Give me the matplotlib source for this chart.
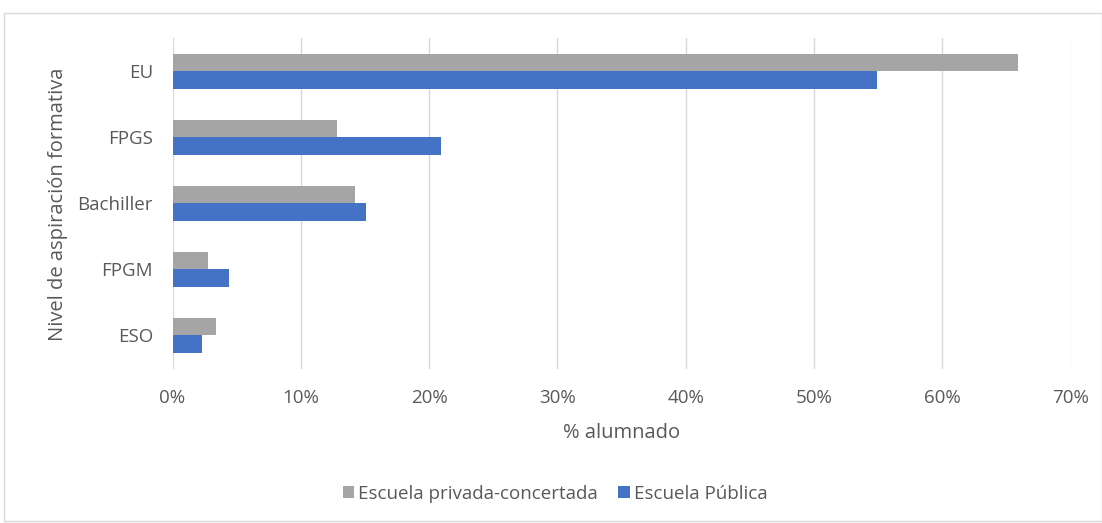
import matplotlib.pyplot as plt
from matplotlib.patches import Rectangle
from matplotlib.ticker import FuncFormatter, MultipleLocator
import numpy as np

categories = ["EU", "FPGS", "Bachiller", "FPGM", "ESO"]
privada = [65.9, 12.8, 14.2, 2.8, 3.4]
publica = [54.9, 20.9, 15.1, 4.4, 2.3]
series_labels = ["Escuela privada-concertada", "Escuela Pública"]
colors = ["#A5A5A5", "#4472C4"]
text_color = "#595959"

plt.rcParams["font.family"] = ["Open Sans", "DejaVu Sans"]

W, H = 1102, 523
fig = plt.figure(figsize=(W / 100, H / 100), dpi=100)

# outer chart frame
fig.patches.append(Rectangle((4 / W, 2 / H), (W - 4) / W, (H - 15) / H,
                             transform=fig.transFigure, fill=False,
                             edgecolor="#D9D9D9", linewidth=1.0))

ax_left, ax_right, ax_top, ax_bottom = 172.5, 1070.7, 38.3, 368.5
ax = fig.add_axes([ax_left / W, 1 - ax_bottom / H,
                   (ax_right - ax_left) / W, (ax_bottom - ax_top) / H])

y = np.arange(len(categories))
h = 0.265
ax.barh(y - h / 2, privada, height=h, color=colors[0], label=series_labels[0], zorder=3)
ax.barh(y + h / 2, publica, height=h, color=colors[1], label=series_labels[1], zorder=3)

ax.set_xlim(0, 70)
ax.set_ylim(len(categories) - 0.5, -0.5)
ax.set_yticks(y)
ax.set_yticklabels(categories)
ax.xaxis.set_major_locator(MultipleLocator(10))
ax.xaxis.set_major_formatter(FuncFormatter(lambda v, p: f"{v:.0f}%"))
ax.grid(axis="x", color="#D9D9D9", linewidth=1.0, zorder=0)
for s in ax.spines.values():
    s.set_visible(False)
ax.tick_params(length=0, labelsize=13.5, colors=text_color)
ax.tick_params(axis="x", pad=15)
ax.tick_params(axis="y", pad=14)

ax_w = ax_right - ax_left
ax_h = ax_bottom - ax_top
ax.set_xlabel("% alumnado", fontsize=14.5, color=text_color)
ax.xaxis.label.set_va("center")
ax.xaxis.set_label_coords(0.5, (ax_bottom - 433) / ax_h)
ax.set_ylabel("Nivel de aspiración formativa", fontsize=14.5, color=text_color)
ax.yaxis.label.set_va("center")
ax.yaxis.set_label_coords((58 - ax_left) / ax_w, (ax_bottom - 204) / ax_h)

leg = fig.legend(loc="center left", bbox_to_anchor=(337 / W, 1 - 494 / H), ncol=2,
                 frameon=False, fontsize=13.5, handlelength=0.62, handleheight=0.62,
                 handletextpad=0.2, columnspacing=1.1, borderaxespad=0, borderpad=0.3)
for t in leg.get_texts():
    t.set_color(text_color)

fig.savefig("out.png", dpi=100, facecolor="white")
